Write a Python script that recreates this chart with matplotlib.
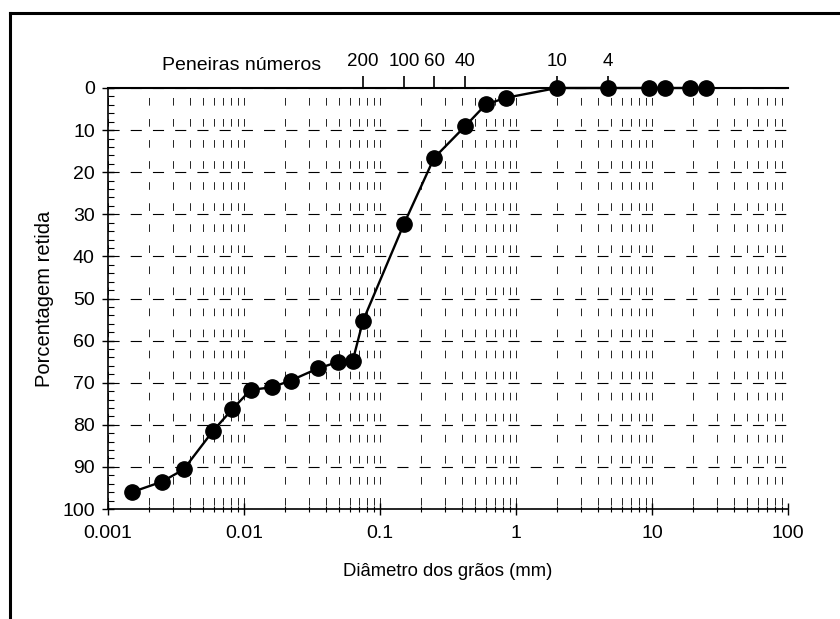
import matplotlib
matplotlib.use("Agg")
import matplotlib.pyplot as plt
from matplotlib.ticker import LogLocator, FixedLocator, NullFormatter, MultipleLocator
from matplotlib.lines import Line2D

plt.rcParams['font.family'] = ['Liberation Sans', 'DejaVu Sans']
plt.rcParams['lines.scale_dashes'] = False

# grain size curve (diameter in mm, percent retained)
diametro = [0.0015, 0.0025, 0.0036, 0.0059, 0.0082, 0.0112, 0.016, 0.022, 0.035,
            0.049, 0.063, 0.075, 0.15, 0.25, 0.425, 0.6, 0.85,
            2.0, 4.75, 9.5, 12.5, 19.0, 25.0]
retida = [96.0, 93.5, 90.6, 81.5, 76.3, 71.7, 71.1, 69.5, 66.6,
          65.1, 64.8, 55.3, 32.3, 16.6, 9.0, 3.9, 2.3,
          0, 0, 0, 0, 0, 0]

# sieve openings (mm) and numbers for the top axis
peneiras_mm = [0.075, 0.15, 0.25, 0.425, 2.0, 4.75]
peneiras_num = ['200', '100', '60', '40', '10', '4']

x_ticks = [0.001, 0.01, 0.1, 1, 10, 100]
x_labels = ['0.001', '0.01', '0.1', '1', '10', '100']

fig = plt.figure(figsize=(8.4, 6.19), dpi=100)
ax = fig.add_axes([108/840, 1 - 509/619, 680/840, 421/619])

ax.set_xscale('log')
ax.set_xlim(0.001, 100)
ax.set_ylim(100, 0)

# grids
ax.grid(axis='y', which='major', color='black', linewidth=0.8,
        linestyle=(0, (8.0, 8.0)))
ax.xaxis.set_minor_locator(LogLocator(base=10, subs=range(2, 10)))
ax.xaxis.set_minor_formatter(NullFormatter())
ax.grid(axis='x', which='both', color='black', linewidth=0.6,
        linestyle=(12.4, (5.5, 9.66)))

ax.plot(diametro, retida, color='black', linewidth=1.7, marker='o',
        markersize=11, markerfacecolor='black', markeredgecolor='black',
        zorder=5, clip_on=False)

ax.set_xticks(x_ticks)
ax.set_xticklabels(x_labels)
ax.yaxis.set_major_locator(MultipleLocator(10))
ax.yaxis.set_minor_locator(MultipleLocator(2))

ax.tick_params(axis='both', which='major', labelsize=14, direction='inout',
               length=9, width=1, colors='black')
ax.tick_params(axis='x', which='major', pad=7)
ax.tick_params(axis='y', which='major', pad=5)
ax.tick_params(axis='x', which='minor', direction='inout', length=5, width=0.8)
ax.tick_params(axis='y', which='minor', direction='in', length=4, width=0.8)

for s in ['right', 'top']:
    ax.spines[s].set_visible(False)
for s in ['left', 'bottom']:
    ax.spines[s].set_linewidth(1.2)

# top axis with sieve numbers
ax2 = ax.twiny()
ax2.set_xscale('log')
ax2.set_xlim(ax.get_xlim())
ax2.xaxis.set_major_locator(FixedLocator(peneiras_mm))
ax2.xaxis.set_minor_locator(FixedLocator([]))
ax2.set_xticklabels(peneiras_num)
ax2.tick_params(axis='x', which='major', labelsize=13.5, direction='out',
                length=9, width=1.2, pad=4)
for s in ['right', 'left', 'bottom']:
    ax2.spines[s].set_visible(False)
ax2.spines['top'].set_linewidth(1.5)

fig.text(242/840, 1 - 66/619, 'Peneiras números', fontsize=14,
         ha='center', va='center')
ax.set_xlabel('Diâmetro dos grãos (mm)', fontsize=13.3, labelpad=15)
ax.set_ylabel('Porcentagem retida', fontsize=14.5, labelpad=6)

# outer frame (top and left edges)
fig.add_artist(Line2D([10/840, 10/840], [0, 1 - 13/619], transform=fig.transFigure,
                      color='black', linewidth=2.2))
fig.add_artist(Line2D([10/840, 1], [1 - 13/619, 1 - 13/619], transform=fig.transFigure,
                      color='black', linewidth=2.2))

fig.savefig('out.png', dpi=100)
